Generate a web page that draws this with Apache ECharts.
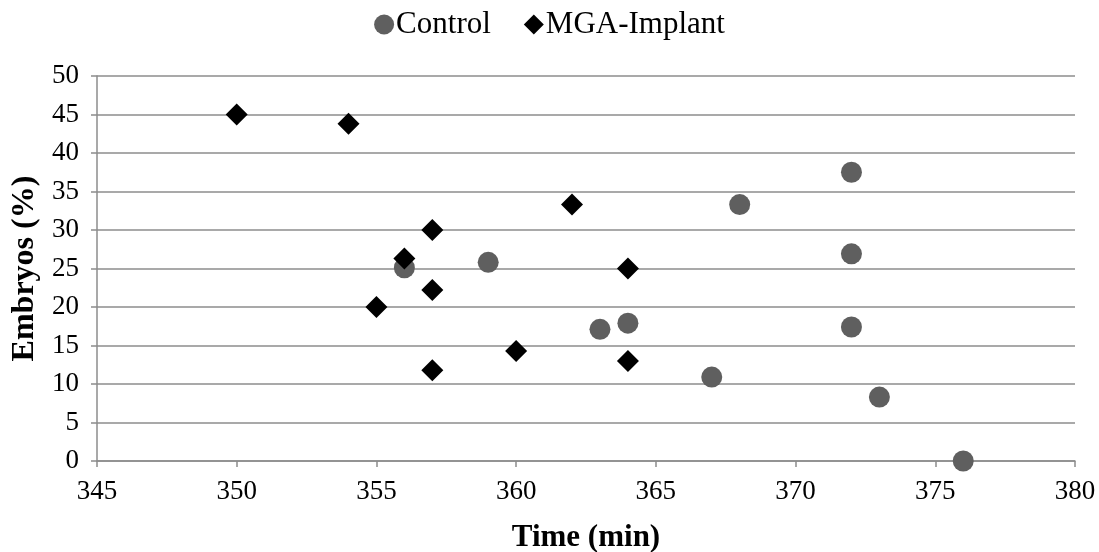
<!DOCTYPE html>
<html>
<head>
<meta charset="utf-8">
<script src="https://cdn.jsdelivr.net/npm/echarts@6/dist/echarts.min.js"></script>
<style>
  html, body { margin: 0; padding: 0; background: #fff; }
  #chart { width: 1099px; height: 552px; }
</style>
</head>
<body>
<div id="chart"></div>
<script>
// Time (min) and embryo percentage for each group
const controlTime = [356, 359, 363, 364, 367, 368, 372, 372, 372, 373, 376];
const controlEmbryos = [25.1, 25.8, 17.1, 17.9, 10.9, 33.3, 37.5, 26.9, 17.4, 8.3, 0];
const implantTime = [350, 354, 355, 356, 357, 357, 357, 360, 362, 364, 364];
const implantEmbryos = [45, 43.8, 20, 26.3, 30, 22.2, 11.8, 14.3, 33.3, 25, 13];

const seriesNames = ['Control', 'MGA-Implant'];
const xTitle = 'Time (min)';
const yTitle = 'Embryos (%)';

const pairs = (xs, ys) => xs.map((x, i) => [x, ys[i]]);
const serif = '"Liberation Serif", "Times New Roman", serif';
const axisGray = '#8c8c8c';

const chart = echarts.init(document.getElementById('chart'));
chart.setOption({
  animation: false,
  backgroundColor: '#fff',
  textStyle: { fontFamily: serif },
  legend: {
    top: 4,
    left: 'center',
    itemGap: 33,
    itemWidth: 20,
    itemHeight: 20,
    textStyle: { fontFamily: serif, fontSize: 31, color: '#000', padding: [0, 0, 0, -3] },
    data: [
      { name: seriesNames[0], icon: 'circle', itemStyle: { color: '#5f5f5f' } },
      { name: seriesNames[1], icon: 'diamond', itemStyle: { color: '#000' } }
    ]
  },
  grid: { left: 97, right: 24, top: 76, bottom: 91, containLabel: false, outerBoundsMode: 'none' },
  xAxis: {
    type: 'value',
    min: 345, max: 380, interval: 5,
    name: xTitle,
    nameLocation: 'middle',
    nameGap: 61,
    nameTextStyle: { fontFamily: serif, fontSize: 31, fontWeight: 'bold', color: '#000' },
    axisLine: { show: true, onZero: false, lineStyle: { color: axisGray, width: 1.5 } },
    axisTick: { show: true, length: 6, lineStyle: { color: axisGray, width: 1.5 } },
    axisLabel: { fontFamily: serif, fontSize: 27, color: '#000', margin: 17 },
    splitLine: { show: false }
  },
  yAxis: {
    type: 'value',
    min: 0, max: 50, interval: 5,
    name: yTitle,
    nameLocation: 'middle',
    nameGap: 56,
    nameRotate: 90,
    nameTextStyle: { fontFamily: serif, fontSize: 32, fontWeight: 'bold', color: '#000' },
    axisLine: { show: true, lineStyle: { color: axisGray, width: 1.5 } },
    axisTick: { show: true, length: 6, lineStyle: { color: axisGray, width: 1.5 } },
    axisLabel: { fontFamily: serif, fontSize: 27, color: '#000', margin: 18 },
    splitLine: { show: true, lineStyle: { color: axisGray, width: 1.5 } }
  },
  series: [
    {
      name: seriesNames[0],
      type: 'scatter',
      symbol: 'circle',
      symbolSize: 21,
      itemStyle: { color: '#5f5f5f', opacity: 1 },
      data: pairs(controlTime, controlEmbryos),
      z: 2
    },
    {
      name: seriesNames[1],
      type: 'scatter',
      symbol: 'diamond',
      symbolSize: 22,
      itemStyle: { color: '#000', opacity: 1 },
      data: pairs(implantTime, implantEmbryos),
      z: 3
    }
  ]
});
</script>
</body>
</html>
